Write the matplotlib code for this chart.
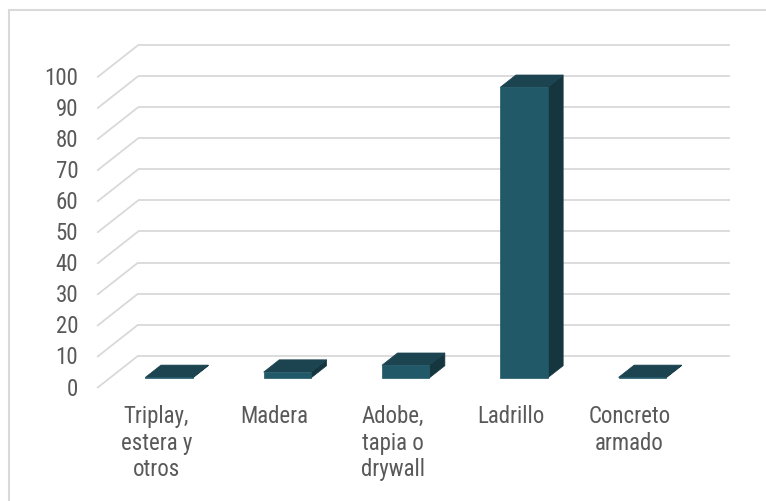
import matplotlib
matplotlib.use("Agg")
import matplotlib.pyplot as plt
from matplotlib.patches import Polygon, Rectangle
from matplotlib import font_manager
from matplotlib.font_manager import FontProperties

# ---- data ----
categories = ["Triplay,\nestera y\notros", "Madera", "Adobe,\ntapia o\ndrywall", "Ladrillo", "Concreto\narmado"]
values = [0.2, 1.9, 4.1, 93.6, 0.2]
yticks = [0, 10, 20, 30, 40, 50, 60, 70, 80, 90, 100]

# ---- style / layout ----
c_front = "#215968"
c_top = "#1b4350"
c_side = "#15363f"
c_grid = "#d9d9d9"
c_text = "#595959"
DX, DY = 0.347, 10.4       # oblique depth vector (category units, value units)
z_front, z_back = 0.31, 0.69
bar_w = 0.40

FONT, FS, LS = "Liberation Sans", 15.5, 1.28
for fam, fs, ls in [("Roboto Condensed", 16.5, 1.2), ("Arial Narrow", 16, 1.26),
                    ("Liberation Sans Narrow", 16, 1.26)]:
    try:
        font_manager.findfont(FontProperties(family=fam), fallback_to_default=False)
        FONT, FS, LS = fam, fs, ls
        break
    except Exception:
        pass

def P(x, y, z):
    return (x + z * DX, y + z * DY)

W, H = 766, 501
fig = plt.figure(figsize=(W / 100, H / 100), dpi=100)
ax = fig.add_axes([0, 0, 1, 1])
ax.set_xlim(-1.321, 5.154)
ax.set_ylim(-36.38, 124.92)
ax.axis("off")

# chart border (left and top edges visible)
fig.add_artist(Rectangle((8.5 / W, -0.1), 1.2, 1.1 - 9.5 / H, transform=fig.transFigure,
                         fill=False, edgecolor=c_grid, linewidth=1.5))

n = len(categories)
x_left, x_right = -0.5, n - 0.5

# gridlines: back wall and left wall
for v in yticks:
    (x0, y0), (x1, y1) = P(x_left, v, 1), P(x_right, v, 1)
    ax.plot([x0, x1], [y0, y1], color=c_grid, lw=1.3, solid_capstyle="butt", zorder=1)
    (x0, y0), (x1, y1) = P(x_left, v, 0), P(x_left, v, 1)
    ax.plot([x0, x1], [y0, y1], color=c_grid, lw=1.3, solid_capstyle="butt", zorder=1)
    tx, ty = P(x_left, v, 0)
    ax.annotate(str(v), (tx, ty), xytext=(-19, -1), textcoords="offset pixels",
                ha="right", va="center", fontsize=FS, family=FONT, color=c_text)

# bars
for i, v in enumerate(values):
    xl, xr = i - bar_w / 2, i + bar_w / 2
    front = [P(xl, 0, z_front), P(xr, 0, z_front), P(xr, v, z_front), P(xl, v, z_front)]
    top = [P(xl, v, z_front), P(xr, v, z_front), P(xr, v, z_back), P(xl, v, z_back)]
    side = [P(xr, 0, z_front), P(xr, 0, z_back), P(xr, v, z_back), P(xr, v, z_front)]
    ax.add_patch(Polygon(side, closed=True, facecolor=c_side, edgecolor=c_side, lw=0.5, zorder=3))
    ax.add_patch(Polygon(top, closed=True, facecolor=c_top, edgecolor=c_top, lw=0.5, zorder=3))
    ax.add_patch(Polygon(front, closed=True, facecolor=c_front, edgecolor=c_front, lw=0.5, zorder=4))

# category labels
for i, lab in enumerate(categories):
    tx, ty = P(i, 0, 0)
    ax.annotate(lab, (tx, ty), xytext=(0, -17), textcoords="offset pixels",
                ha="center", va="top", fontsize=FS, family=FONT, color=c_text,
                linespacing=LS, multialignment="center")

fig.savefig("out.png", dpi=100)
